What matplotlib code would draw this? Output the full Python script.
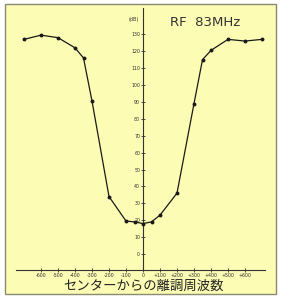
import matplotlib
matplotlib.use("Agg")
import matplotlib.pyplot as plt
from matplotlib.patches import Rectangle

# Data
freq_offset = [-700, -600, -500, -400, -350, -300, -200, -100, -50, 0,
               50, 100, 200, 300, 350, 400, 500, 600, 700]
attenuation = [127, 129.5, 128, 122, 116, 90.5, 34, 19.5, 19, 18,
               19, 23, 36, 89, 115, 120.5, 127, 126, 127]
yticks = list(range(0, 131, 10))
xticks = [-600, -500, -400, -300, -200, -100, 0, 100, 200, 300, 400, 500, 600]
xticklabels = ["-600", "-500", "-400", "-300", "-200", "-100", "0",
               "+100", "+200", "+300", "+400", "+500", "+600"]
title = "RF  83MHz"
unit = "(dB)"
xlabel = "センターからの離調周波数"

W, H = 287, 297
fig = plt.figure(figsize=(W / 100, H / 100), dpi=100)
fig.patch.set_facecolor("white")

# background panel (pixel coords -> fig fraction)
px0, py0, px1, py1 = 5, 4, 276, 294
fig.patches.append(Rectangle((px0 / W, 1 - py1 / H), (px1 - px0) / W, (py1 - py0) / H,
                             transform=fig.transFigure, facecolor="#fcfcb4",
                             edgecolor="#8a8a70", linewidth=1.0, zorder=-5))

ax = fig.add_axes([0, 0, 1, 1])
ax.set_zorder(2)
ax.set_facecolor("none")
# pixel mapping: x_px = 143 + v*0.17 ; y_px = 254 - v*1.69
ax.set_xlim((0 - 143) / 0.17, (W - 143) / 0.17)
ax.set_ylim((254 - H) / 1.69, (254 - 0) / 1.69)

ax.plot(freq_offset, attenuation, color="#1a1a1a", lw=0.9, marker="o",
        markersize=1.8, zorder=3)

for s in ["top", "right"]:
    ax.spines[s].set_visible(False)
ax.spines["left"].set_position(("data", 0))
ax.spines["bottom"].set_position(("data", -9.5))
ax.spines["left"].set_bounds(-9.5, 145.5)
ax.spines["bottom"].set_bounds(-750, 720)
for s in ["left", "bottom"]:
    ax.spines[s].set_color("#333333")
    ax.spines[s].set_linewidth(0.8)

ax.set_yticks(yticks)
ax.set_yticklabels([str(v) for v in yticks])
ax.set_xticks(xticks)
ax.set_xticklabels(xticklabels)
ax.tick_params(axis="both", direction="inout", length=3, width=0.6,
               labelsize=3.4, colors="#333333", pad=0.5)

ax.text(-55, (254 - 20) / 1.69, unit, fontsize=3.5,
        color="#333333", ha="center", va="center")
ax.text((205 - 143) / 0.17, (254 - 22.5) / 1.69, title, fontsize=9.5,
        color="#333333", ha="center", va="center", family="DejaVu Sans")
ax.text(0, (254 - 286) / 1.69, xlabel, fontsize=9.6, color="#222222",
        ha="center", va="center", family=["Noto Sans CJK JP", "DejaVu Sans"])

fig.savefig("out.png", dpi=100)
